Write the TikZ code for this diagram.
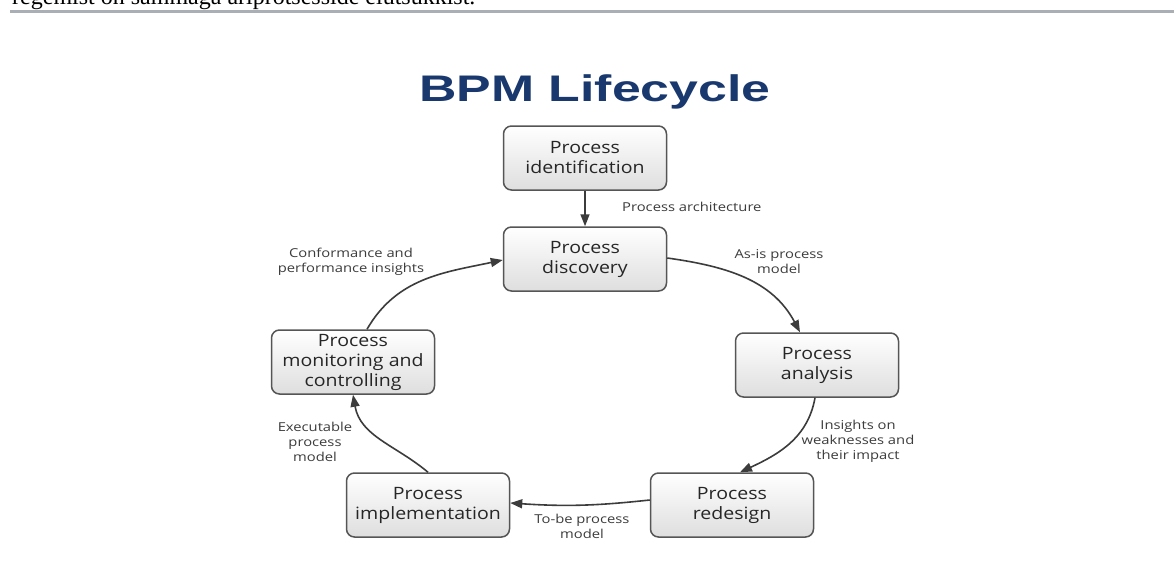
\documentclass[tikz,border=0pt]{standalone}
\usepackage{fontspec}
\usetikzlibrary{arrows.meta}
\newfontfamily\boxfont[FakeStretch=1.15]{Open Sans}
\newfontfamily\lblfont[FakeStretch=1.2]{Open Sans}
\newfontfamily\ttlfont[FakeStretch=1.4]{Liberation Sans}
\newfontfamily\docfont{Liberation Serif}
\definecolor{ttlblue}{RGB}{24,56,110}
\definecolor{boxline}{RGB}{85,85,85}
\definecolor{arrcol}{RGB}{60,60,60}
\definecolor{lblcol}{RGB}{60,60,60}
\definecolor{rulecol}{RGB}{170,175,182}
\definecolor{boxbot}{RGB}{222,222,222}
\tikzset{
  stage/.style={draw=boxline, line width=1.5pt, rounded corners=8pt,
    top color=white, bottom color=boxbot, minimum width=163pt, minimum height=64pt,
    inner sep=0pt, align=center, text=black!85,
    font=\boxfont\fontsize{17}{20}\selectfont},
  lbl/.style={align=center, text=lblcol, inner sep=0pt,
    font=\lblfont\fontsize{12.3}{15}\selectfont},
  arr/.style={draw=arrcol, line width=1.6pt, -{Triangle[length=12pt,width=9pt]}}
}
\begin{document}
\begin{tikzpicture}[x=1pt,y=1pt]
\useasboundingbox (0,0) rectangle (1174,-570);
\fill[white] (0,0) rectangle (1174,-570);
\begin{scope}
\clip (0,0) rectangle (1174,-570);
\node[anchor=base west, inner sep=0pt, font=\docfont\fontsize{24}{28}\selectfont] (doc) at (12,-5) {regemist on sammaga äriprotsesside elutsükkist.};
\fill[rulecol] (10,-9.5) rectangle (1174,-13);
\end{scope}

\node[font=\ttlfont\bfseries\fontsize{37}{40}\selectfont, text=ttlblue, inner sep=0pt] (title) at (595,-92) {BPM Lifecycle};

\node[stage] (id) at (585,-158) {Process\\identification};
\node[stage] (disc) at (585,-259) {Process\\discovery};
\node[stage] (ana) at (817,-365) {Process\\analysis};
\node[stage] (red) at (732,-505) {Process\\redesign};
\node[stage] (impl) at (428,-505) {Process\\implementation};
\node[stage] (mon) at (353,-362) {Process\\monitoring and\\controlling};

\draw[arr] (id) -- (disc);
\draw[arr] ([yshift=1pt]disc.east) to[out=-8, in=118] ([xshift=-17pt]ana.north);
\draw[arr] ([xshift=-2pt]ana.south) to[out=-100, in=25] ([xshift=8pt]red.north);
\draw[arr] ([yshift=5pt]red.west) to[bend left=5] ([yshift=2pt]impl.east);
\draw[arr] (impl.north) to[out=140, in=-80] (mon.south);
\draw[arr] ([xshift=14pt]mon.north) to[out=60, in=192] ([yshift=-1pt]disc.west);

\node[lbl, anchor=west] (l1) at (622,-207) {Process architecture};
\node[lbl] (l2) at (779,-262) {As-is process\\model};
\node[lbl] (l3) at (858,-441) {Insights on\\weaknesses and\\their impact};
\node[lbl] (l4) at (582,-526) {To-be process\\model};
\node[lbl] (l5) at (315,-442) {Executable\\process\\model};
\node[lbl] (l6) at (351,-262) {Conformance and\\performance insights};
\end{tikzpicture}
\end{document}
